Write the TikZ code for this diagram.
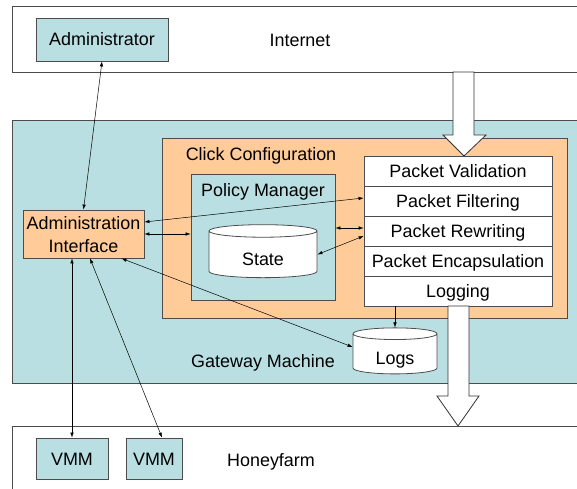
\documentclass[tikz,border=0pt]{standalone}
\usepackage{fontspec}
\setmainfont{Liberation Sans}
\usetikzlibrary{shapes.geometric,arrows.meta}
\definecolor{gwblue}{RGB}{185,223,227}
\definecolor{clickorange}{RGB}{255,204,153}
\tikzset{
  panel/.style={draw=black!70,line width=0.8bp},
  bluebox/.style={panel,fill=gwblue,inner sep=0pt},
  orangebox/.style={panel,fill=clickorange,inner sep=0pt},
  stage/.style={panel,fill=white,minimum width=188bp,minimum height=30bp,inner sep=0pt},
  store/.style={panel,fill=white,cylinder,shape border rotate=90,aspect=0.3,inner sep=0pt,
    text height=21bp},
  link/.style={<->,line width=0.5bp},
  bigarrow/.style={draw=black!80,line width=0.8bp,fill=white},
}
\begin{document}
\begin{tikzpicture}[x=1bp,y=-1bp,>={Latex[length=5bp,width=3.5bp]},
  font=\fontsize{18}{21}\selectfont,
  every node/.append style={text height=13bp,text depth=0bp}]
\useasboundingbox (0,0) rectangle (577,489);
\clip (0,0) rectangle (577,489);
%% zones
\draw [panel,fill=white] (12,6) rectangle (600,72);
\draw [panel,fill=gwblue] (12,120) rectangle (600,383);
\draw [panel,fill=white] (12,426) rectangle (600,520);
\node (internet) at (300,40) {Internet};
\node (gateway) at (263,361) {Gateway Machine};
\node (honeyfarm) at (271,460) {Honeyfarm};
%% outside hosts
\node (admin) at (102,39.5) [bluebox,minimum width=132bp,minimum height=43bp] {Administrator};
\node (vmm1) at (72,458.5) [bluebox,minimum width=72bp,minimum height=41bp] {VMM};
\node (vmm2) at (154,458.5) [bluebox,minimum width=56bp,minimum height=41bp] {VMM};
%% gateway internals
\node (ai) at (83.5,234) [orangebox,minimum width=121bp,minimum height=48bp,align=center,
  font=\fontsize{18}{23}\selectfont,text height=36bp] {Administration\\Interface};
\node (click) at (364.5,228) [orangebox,minimum width=405bp,minimum height=180bp] {};
\node (clicklabel) at (261,154) {Click Configuration};
\node (pm) at (263,237) [bluebox,minimum width=144bp,minimum height=126bp] {};
\node (pmlabel) at (263,190) {Policy Manager};
\node (state) at (263,254.5) [store,minimum width=108bp,minimum height=53bp] {State};
\node (pval) at (458,171) [stage] {Packet Validation};
\node (pfilt) at (458,201) [stage] {Packet Filtering};
\node (prew) at (458,231) [stage] {Packet Rewriting};
\node (penc) at (458,261) [stage] {Packet Encapsulation};
\node (plog) at (458,291) [stage] {Logging};
\node (logs) at (395,354) [store,minimum width=84bp,minimum height=46bp] {Logs};
%% traffic in and out
\draw [bigarrow] (453,72) -- (453,135) -- (443,135) -- (464,156) -- (486,135)
  -- (474,135) -- (474,72) -- cycle;
\draw [bigarrow] (448,306) -- (448,396) -- (437,396) -- (458,426) -- (479,396)
  -- (469,396) -- (469,306) -- cycle;
%% control links
\draw [link] (admin.south) -- (ai.north);
\draw [link] ([yshift=12bp]ai.east) -- ([yshift=3bp]pfilt.west);
\draw [link] (ai.east) -- (ai.east -| pm.west);
\draw [link] ([yshift=3bp]prew.west) -- ([yshift=3bp]prew.west -| pm.east);
\draw [link] (state.east) -- ([yshift=-5bp]prew.west);
\draw [link] ([xshift=38bp]ai.south) -- ([yshift=7bp]logs.west);
\draw [link] (ai.south -| vmm1.north) -- (vmm1.north);
\draw [link] ([xshift=6.5bp]ai.south) -- ([xshift=8bp]vmm2.north);
\draw [->,line width=0.5bp] (logs.north |- plog.south) -- (logs.north);
\end{tikzpicture}
\end{document}
